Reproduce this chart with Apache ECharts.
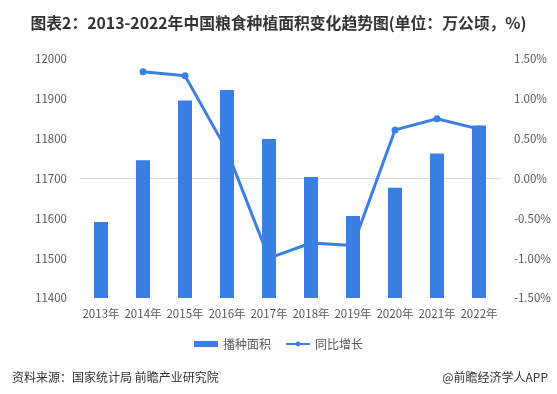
<!DOCTYPE html>
<html><head><meta charset="utf-8">
<script src="https://cdn.jsdelivr.net/npm/echarts@6/dist/echarts.min.js"></script>
<style>html,body{margin:0;padding:0;background:#fff;}#c{width:557px;height:394px;}</style>
</head><body><div id="c"></div>
<script>
var categories = ['2013年','2014年','2015年','2016年','2017年','2018年','2019年','2020年','2021年','2022年'];
var areaValues = [11591, 11746, 11896, 11922, 11799, 11704, 11606, 11677, 11763, 11833];
var growthValues = [null, 1.34, 1.29, 0.35, -1.00, -0.81, -0.84, 0.61, 0.75, 0.62];
var leftTicks = {min: 11400, max: 12000, interval: 100};
var rightTicks = {min: -1.5, max: 1.5, interval: 0.5};

var chart = echarts.init(document.getElementById('c'), null, {renderer: 'canvas'});
var font = '"Microsoft YaHei","Noto Sans CJK SC",sans-serif';
chart.setOption({
  animation: false,
  textStyle: {fontFamily: font},
  title: [{
    text: '图表2：2013-2022年中国粮食种植面积变化趋势图(单位：万公顷，%)',
    left: 'center', top: 10,
    textStyle: {fontSize: 15.8, fontWeight: 'bold', color: '#333', fontFamily: font}
  }, {
    text: '资料来源：国家统计局 前瞻产业研究院',
    left: 7, top: 366,
    textStyle: {fontSize: 12, fontWeight: 'normal', color: '#333', fontFamily: font}
  }, {
    text: '@前瞻经济学人APP',
    right: 4, top: 366,
    textStyle: {fontSize: 12, fontWeight: 'normal', color: '#333', fontFamily: font}
  }],
  legend: {
    top: 333, left: 'center',
    itemGap: 14,
    textStyle: {fontSize: 12, color: '#595959', fontFamily: font},
    data: [{name: '播种面积', icon: 'rect'}, {name: '同比增长'}],
    itemWidth: 24, itemHeight: 6
  },
  grid: {left: 80, right: 57, top: 59, bottom: 96, containLabel: false},
  xAxis: {
    type: 'category', data: categories,
    axisLine: {lineStyle: {color: '#d9d9d9'}},
    axisTick: {show: false},
    axisLabel: {color: '#595959', fontSize: 11.5, margin: 10, interval: 0, fontFamily: font}
  },
  yAxis: [{
    type: 'value', min: leftTicks.min, max: leftTicks.max, interval: leftTicks.interval,
    splitLine: {show: false}, axisLine: {show: false}, axisTick: {show: false},
    axisLabel: {color: '#595959', fontSize: 11.5, margin: 13, fontFamily: font,
      formatter: function (v) { return String(v); }}
  }, {
    type: 'value', min: rightTicks.min, max: rightTicks.max, interval: rightTicks.interval,
    splitLine: {show: false}, axisLine: {show: false}, axisTick: {show: false},
    axisLabel: {color: '#595959', fontSize: 11.5, margin: 14, fontFamily: font,
      formatter: function (v) { return v.toFixed(2) + '%'; }}
  }],
  series: [{
    name: '播种面积', type: 'bar', data: areaValues, barWidth: 14,
    itemStyle: {color: '#3a80e4'}
  }, {
    name: '同比增长', type: 'line', yAxisIndex: 1, data: growthValues,
    symbol: 'circle', symbolSize: 7, showSymbol: true,
    lineStyle: {color: '#3a80e4', width: 3},
    itemStyle: {color: '#3a80e4'}
  }]
});
</script></body></html>
